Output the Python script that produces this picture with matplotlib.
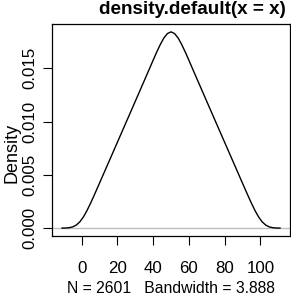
import matplotlib
matplotlib.use("Agg")
import matplotlib.pyplot as plt

# density curve
dens_x = [-11, -9, -7, -5, -3, -1, 1, 3, 5, 7, 9, 11, 20, 30, 38, 40, 42, 44, 46,
          48, 50, 52, 54, 56, 58, 60, 62, 70, 80, 89, 91, 93, 95, 97, 99, 101,
          103, 105, 107, 109, 111]
dens_y = [0.000003, 0.000011, 0.000040, 0.000118, 0.000289, 0.000596, 0.001057,
          0.001654, 0.002344, 0.003083, 0.003843, 0.00461, 0.00806, 0.01190,
          0.01498, 0.01576, 0.01652, 0.01723, 0.01784, 0.01826, 0.01842,
          0.01826, 0.01784, 0.01723, 0.01652, 0.01576, 0.01498, 0.01190,
          0.00806, 0.00461, 0.003843, 0.003083, 0.002344, 0.001654, 0.001057,
          0.000596, 0.000289, 0.000118, 0.000040, 0.000011, 0.000003]

x_ticks = [0, 20, 40, 60, 80, 100]
y_ticks = [0.000, 0.005, 0.010, 0.015]
y_tick_labels = ["0.000", "0.005", "0.010", "0.015"]

title = "density.default(x = x)"
xlab = "N = 2601   Bandwidth = 3.888"
ylab = "Density"

W, H = 291, 296
plt.rcParams['font.family'] = ['Liberation Sans', 'DejaVu Sans']

fig = plt.figure(figsize=(W / 100, H / 100), dpi=100)
ax = fig.add_axes([52 / W, (H - 236) / H, (290 - 52) / W, (236 - 24) / H])

ax.axhline(0, color="#bebebe", lw=1.0, zorder=1)
ax.plot(dens_x, dens_y, color="black", lw=1.0, zorder=2)

ax.set_xlim(-16.6, 116.6)
ax.set_ylim(-0.000737, 0.019157)

ax.set_xticks(x_ticks)
ax.set_xticklabels([str(v) for v in x_ticks])
ax.set_yticks(y_ticks)
ax.set_yticklabels(y_tick_labels, rotation=90, va="center")

ax.tick_params(axis="x", length=6.5, width=0.8, labelsize=12.2, pad=11.5)
ax.tick_params(axis="y", length=6.5, width=0.8, labelsize=12.2, pad=4)
for s in ax.spines.values():
    s.set_linewidth(0.9)

fig.text(285.5 / W, (H - 14.3) / H, title, ha="right", va="baseline",
         fontsize=13.6, fontweight="bold")
fig.text(171 / W, (H - 293) / H, xlab, ha="center", va="baseline", fontsize=11.3)
fig.text(16.5 / W, (H - 153) / H, ylab, ha="center", va="baseline", rotation=90,
         rotation_mode="anchor", fontsize=13)

fig.savefig("out.png", dpi=100)
